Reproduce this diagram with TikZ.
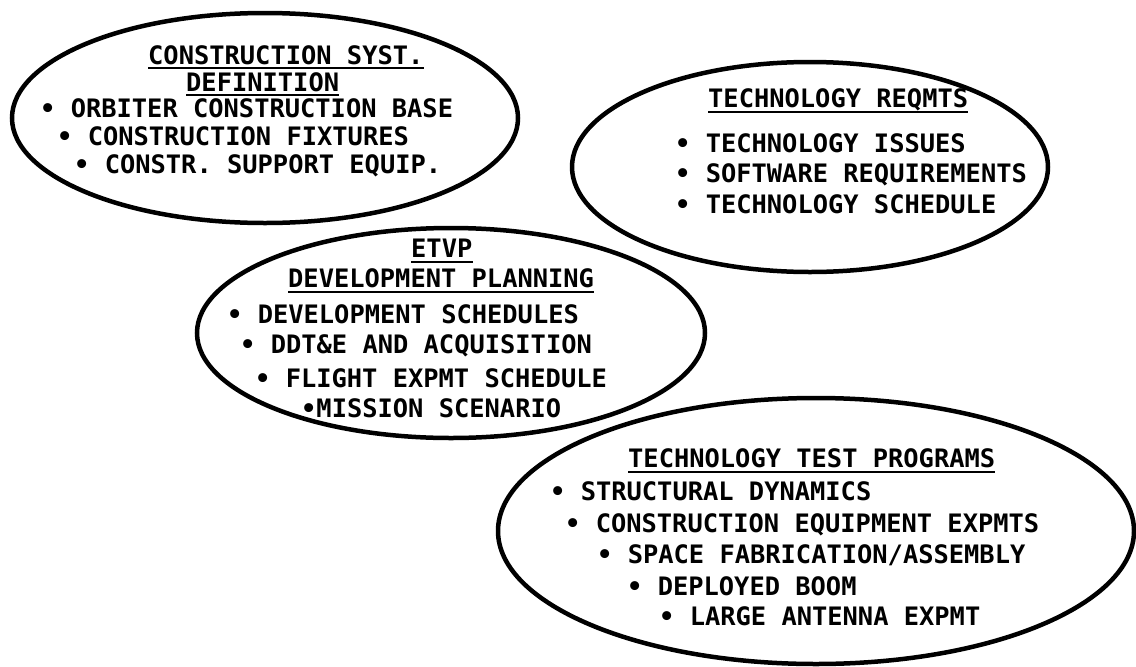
\documentclass[tikz,border=0pt]{standalone}
\usepackage{fontspec}
\newfontfamily\typew{DejaVu Sans Mono}
\begin{document}
\begin{tikzpicture}[x=1pt,y=-1pt,
  oval/.style={line width=4.5pt},
  txt/.style={anchor=base west, inner sep=0pt, font=\typew\bfseries\fontsize{25.4}{30}\selectfont},
  uline/.style={line width=2.5pt}]
\useasboundingbox (0,0) rectangle (1136,667);
\fill[white] (0,0) rectangle (1136,667);
% ellipses
\draw[oval] (265,118) ellipse [x radius=253, y radius=105];
\draw[oval] (810,167) ellipse [x radius=238, y radius=105];
\draw[oval] (451,333) ellipse [x radius=254, y radius=105];
\draw[oval] (816,531) ellipse [x radius=318, y radius=133];
% ellipse 1
\node[txt] (a1) at (148,64) {CONSTRUCTION SYST.};
\node[txt] (a2) at (186,91) {DEFINITION};
\node[txt] (a3) at (40,117) {• ORBITER CONSTRUCTION BASE};
\node[txt] (a4) at (57,145) {• CONSTRUCTION FIXTURES};
\node[txt] (a5) at (74,173) {• CONSTR. SUPPORT EQUIP.};
\draw[uline] ([yshift=-4pt]a1.base west) -- ([yshift=-4pt]a1.base east);
\draw[uline] ([yshift=-4pt]a2.base west) -- ([yshift=-4pt]a2.base east);
% ellipse 2
\node[txt] (b1) at (708,107) {TECHNOLOGY REQMTS};
\node[txt] (b2) at (675,152) {• TECHNOLOGY ISSUES};
\node[txt] (b3) at (675,182) {• SOFTWARE REQUIREMENTS};
\node[txt] (b4) at (675,213) {• TECHNOLOGY SCHEDULE};
\draw[uline] ([yshift=-5pt]b1.base west) -- ([yshift=-5pt]b1.base east);
% ellipse 3
\node[txt] (c1) at (411,257) {ETVP};
\node[txt] (c2) at (288,287) {DEVELOPMENT PLANNING};
\node[txt] (c3) at (227,323) {• DEVELOPMENT SCHEDULES};
\node[txt] (c4) at (240,353) {• DDT\&E AND ACQUISITION};
\node[txt] (c5) at (255,387) {• FLIGHT EXPMT SCHEDULE};
\node[txt] (c6) at (301,417) {•MISSION SCENARIO};
\draw[uline] ([yshift=-5pt]c1.base west) -- ([yshift=-5pt]c1.base east);
\draw[uline] ([yshift=-5pt]c2.base west) -- ([yshift=-5pt]c2.base east);
% ellipse 4
\node[txt] (d1) at (628,467) {TECHNOLOGY TEST PROGRAMS};
\node[txt] (d2) at (550,500) {• STRUCTURAL DYNAMICS};
\node[txt] (d3) at (565,532) {• CONSTRUCTION EQUIPMENT EXPMTS};
\node[txt] (d4) at (597,563) {• SPACE FABRICATION/ASSEMBLY};
\node[txt] (d5) at (627,595) {• DEPLOYED BOOM};
\node[txt] (d6) at (659,625) {• LARGE ANTENNA EXPMT};
\draw[uline] ([yshift=-5pt]d1.base west) -- ([yshift=-5pt]d1.base east);
\end{tikzpicture}
\end{document}
